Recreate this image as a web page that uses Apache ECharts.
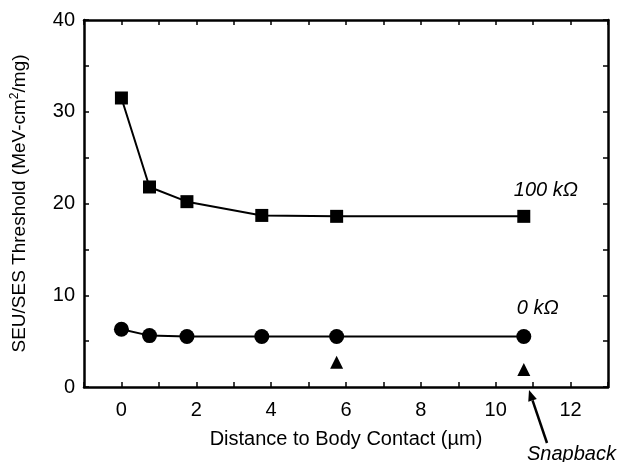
<!DOCTYPE html>
<html>
<head>
<meta charset="utf-8">
<script src="https://cdn.jsdelivr.net/npm/echarts@6/dist/echarts.min.js"></script>
<style>
  html, body { margin: 0; padding: 0; background: #fff; }
</style>
</head>
<body>
<div id="main" style="width: 618px; height: 462px;"></div>
<script>
// distances (um) and thresholds
const distance = [0, 0.75, 1.75, 3.75, 5.75, 10.75]
const res100k = [31.5, 21.8, 20.2, 18.7, 18.6, 18.6]
const res0k = [6.3, 5.6, 5.5, 5.5, 5.5, 5.5]
const snapDistance = [5.75, 10.75]
const snapValue = [2.7, 1.9]
const xTickLabels = [0, 2, 4, 6, 8, 10, 12]
const yTickLabels = [0, 10, 20, 30, 40]

const font = "'Liberation Sans', Arial, sans-serif"
const pairs = (xs, ys) => xs.map((x, i) => [x, ys[i]])

const myChart = echarts.init(document.getElementById('main'))

const axisCommon = {
  axisLine: { onZero: false, lineStyle: { color: '#000', width: 2.5 } },
  axisTick: { inside: true, length: 5, lineStyle: { color: '#000', width: 1.5 } },
  splitLine: { show: false }
}

myChart.setOption({
  animation: false,
  backgroundColor: '#fff',
  grid: { left: 84, right: 10, top: 20, bottom: 75 },
  xAxis: [
    {
      ...axisCommon,
      type: 'value', min: -1, max: 13, interval: 1,
      name: 'Distance to Body Contact (\u00b5m)',
      nameLocation: 'middle', nameGap: 42,
      nameTextStyle: { fontFamily: font, fontSize: 20, color: '#000' },
      axisLabel: {
        fontFamily: font, fontSize: 20, color: '#000', margin: 13,
        formatter: v => xTickLabels.includes(v) ? String(v) : ''
      }
    },
    {
      ...axisCommon,
      type: 'value', min: -1, max: 13, interval: 1, position: 'top',
      axisLabel: { show: false }
    }
  ],
  yAxis: [
    {
      ...axisCommon,
      type: 'value', min: 0, max: 40, interval: 5,
      name: 'SEU/SES Threshold (MeV-cm{sup|2}/mg)',
      nameLocation: 'middle', nameGap: 54,
      nameTextStyle: {
        fontFamily: font, fontSize: 19, color: '#000',
        rich: { sup: { fontFamily: font, fontSize: 12, color: '#000', verticalAlign: 'top', padding: [0, 0, 9, 0] } }
      },
      axisLabel: {
        fontFamily: font, fontSize: 20, color: '#000', margin: 9,
        formatter: v => yTickLabels.includes(v) ? String(v) : ''
      }
    },
    {
      ...axisCommon,
      type: 'value', min: 0, max: 40, interval: 5, position: 'right',
      axisLabel: { show: false }
    }
  ],
  series: [
    {
      name: '100 k\u03a9', type: 'line',
      data: pairs(distance, res100k),
      symbol: 'rect', symbolSize: 13,
      itemStyle: { color: '#000' },
      lineStyle: { color: '#000', width: 2 }
    },
    {
      name: '0 k\u03a9', type: 'line',
      data: pairs(distance, res0k),
      symbol: 'circle', symbolSize: 15,
      itemStyle: { color: '#000' },
      lineStyle: { color: '#000', width: 2 }
    },
    {
      name: 'Snapback', type: 'scatter',
      data: pairs(snapDistance, snapValue),
      symbol: 'triangle', symbolSize: 13,
      itemStyle: { color: '#000', opacity: 1 }
    }
  ]
})

// annotations placed from data space
const px = (x, y) => myChart.convertToPixel({ xAxisIndex: 0, yAxisIndex: 0 }, [x, y])
const p100 = px(10.75, 21.3)
const p0 = px(10.75, 8.4)
const head = [529, 390]
const tail = [547, 443]
const dx = head[0] - tail[0], dy = head[1] - tail[1]
const len = Math.sqrt(dx * dx + dy * dy)
const ux = dx / len, uy = dy / len
const hl = 11, hw = 4.5
const base = [head[0] - ux * hl, head[1] - uy * hl]

myChart.setOption({
  graphic: [
    {
      type: 'text', left: p100[0] - 10, top: p100[1] - 11,
      style: { text: '100 k\u03a9', font: 'italic 20px ' + font, fill: '#000' }
    },
    {
      type: 'text', left: p0[0] - 7, top: p0[1] - 11,
      style: { text: '0 k\u03a9', font: 'italic 20px ' + font, fill: '#000' }
    },
    {
      type: 'text', left: 527, top: 444,
      style: { text: 'Snapback', font: 'italic 20px ' + font, fill: '#000' }
    },
    {
      type: 'line',
      shape: { x1: tail[0], y1: tail[1], x2: base[0], y2: base[1] },
      style: { stroke: '#000', lineWidth: 2.5 }
    },
    {
      type: 'polygon',
      shape: { points: [head, [base[0] - uy * hw, base[1] + ux * hw], [base[0] + uy * hw, base[1] - ux * hw]] },
      style: { fill: '#000' }
    }
  ]
})
</script>
</body>
</html>
